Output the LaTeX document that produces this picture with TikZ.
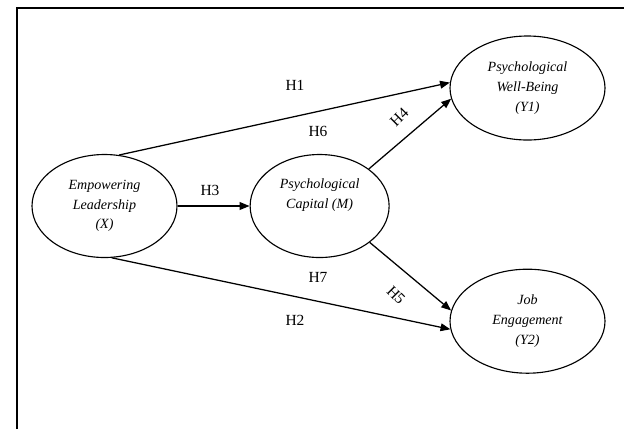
\documentclass[tikz,border=0pt]{standalone}
\usepackage{fontspec}
\setmainfont{Liberation Serif}
\usepackage{tikz}
\usetikzlibrary{arrows.meta,positioning,shapes.geometric}
\tikzset{
  var/.style={draw,ellipse,line width=0.8pt,inner sep=0pt,
              minimum width=3.6cm,minimum height=2.6cm,align=center,
              font=\fontsize{10}{14}\selectfont\itshape},
  arr/.style={-{Triangle[length=7pt,width=5.5pt]},line width=0.9pt},
  hyp/.style={font=\fontsize{11}{13}\selectfont,inner sep=0.5pt},
}

\begin{document}
\begin{tikzpicture}
  \useasboundingbox (0,0) rectangle (15.6,-10.725);
  \draw[line width=1.4pt] (0.425,-10.725) -- (0.425,-0.2) -- (15.6,-0.2);
  % constructs
  \node[var,minimum width=3.625cm,minimum height=2.575cm](x) at (2.6125,-5.15)
       {Empowering\\Leadership\\(X)};
  \node[var,minimum width=3.475cm,minimum height=2.575cm,right=1.8cm of x](m)
       {Psychological\\Capital (M)\\[4pt]};
  \node[var,minimum width=3.875cm,minimum height=2.6cm](y1) at (13.1875,-2.2)
       {Psychological\\Well-Being\\(Y1)};
  \node[var,minimum width=3.875cm,minimum height=2.6cm](y2) at (13.1875,-8.03)
       {Job\\Engagement\\(Y2)};
  % paths
  \draw[arr](x.74)--(y1.176);
  \draw[arr](x.east)--(m.west);
  \draw[arr](x.-82)--(y2.186);
  \draw[arr](m.37)--(y1.188);
  \draw[arr](m.-36)--(y2.172);
  % hypotheses
  \node[hyp](h1) at (7.375,-2.125){H1};
  \node[hyp](h6) at (7.95,-3.275){H6};
  \node[hyp,rotate=45](h4) at (9.98,-2.92){H4};
  \node[hyp](h3) at (5.25,-4.75){H3};
  \node[hyp](h7) at (7.95,-6.925){H7};
  \node[hyp,rotate=-45](h5) at (9.9,-7.38){H5};
  \node[hyp](h2) at (7.375,-8.0){H2};
\end{tikzpicture}
\end{document}
